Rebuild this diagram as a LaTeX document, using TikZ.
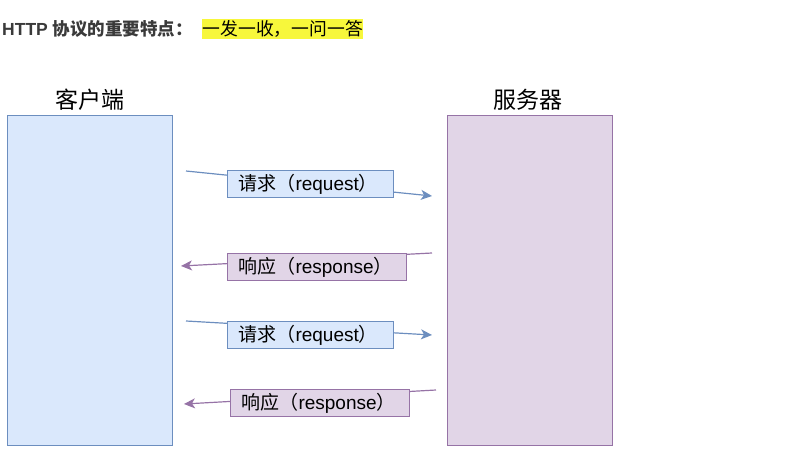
\documentclass[tikz,border=0pt]{standalone}
\usepackage{fontspec}
\setmainfont{Liberation Sans}
\newfontfamily\cjk{Noto Sans CJK SC}
\usetikzlibrary{arrows.meta}
\definecolor{clientfill}{HTML}{DAE8FC}
\definecolor{clientline}{HTML}{6C8EBF}
\definecolor{serverfill}{HTML}{E1D5E7}
\definecolor{serverline}{HTML}{9673A6}
\definecolor{marker}{HTML}{F7F73B}
\definecolor{titlegray}{HTML}{3A3A3A}
\newcommand{\reqtext}{{\cjk 请求（}request{\cjk ）}}
\newcommand{\resptext}{{\cjk 响应（}response{\cjk ）}}

\begin{document}
\begin{tikzpicture}[x=1pt,y=-1pt,
    reqline/.style={clientline,line width=1.2pt,-{Stealth[length=11pt,width=10pt,inset=3pt]}},
    respline/.style={serverline,line width=1.2pt,-{Stealth[length=11pt,width=10pt,inset=3pt]}},
    msgbox/.style={anchor=north west,line width=1pt,minimum height=27pt,inner xsep=11pt,inner ysep=2pt,align=left,font=\fontsize{19}{21}\selectfont},
    reqbox/.style={msgbox,draw=clientline,fill=clientfill,text width=144pt},
    respbox/.style={msgbox,draw=serverline,fill=serverfill,text width=157pt},
    side/.style={anchor=north west,line width=1pt,minimum width=165pt,minimum height=330pt},
    sidelabel/.style={font=\fontsize{23}{25}\selectfont\cjk}]
    \useasboundingbox (0,0) rectangle (787,469);
    % title
    \node[anchor=west,inner sep=0pt,text=titlegray,font=\fontsize{17.5}{19}\selectfont\bfseries] (title) at (2,29) {HTTP {\cjk 协议的重要特点：}};
    \node[anchor=north west,fill=marker,minimum width=161pt,minimum height=20pt,inner sep=0pt,font=\fontsize{17.8}{19}\selectfont\cjk] (motto) at (202,19) {一发一收，一问一答};
    % client and server
    \node[side,draw=clientline,fill=clientfill] (client) at (7,115) {};
    \node[side,draw=serverline,fill=serverfill] (server) at (447,115) {};
    \node[sidelabel] (clientlabel) at (90,100) {客户端};
    \node[sidelabel] (serverlabel) at (528,100) {服务器};
    % message lines
    \coordinate (req1s) at (186,171);  \coordinate (req1e) at (432,196);
    \coordinate (resp1s) at (432,253); \coordinate (resp1e) at (181,266);
    \coordinate (req2s) at (186,321);  \coordinate (req2e) at (432,335);
    \coordinate (resp2s) at (436,390); \coordinate (resp2e) at (184,404);
    \draw[reqline] (req1s) -- (req1e);
    \draw[respline] (resp1s) -- (resp1e);
    \draw[reqline] (req2s) -- (req2e);
    \draw[respline] (resp2s) -- (resp2e);
    % message labels
    \node[reqbox] (req1) at (227,170) {\reqtext};
    \node[respbox] (resp1) at (227,253) {\resptext};
    \node[reqbox] (req2) at (227,321) {\reqtext};
    \node[respbox] (resp2) at (230,389) {\resptext};
\end{tikzpicture}
\end{document}
